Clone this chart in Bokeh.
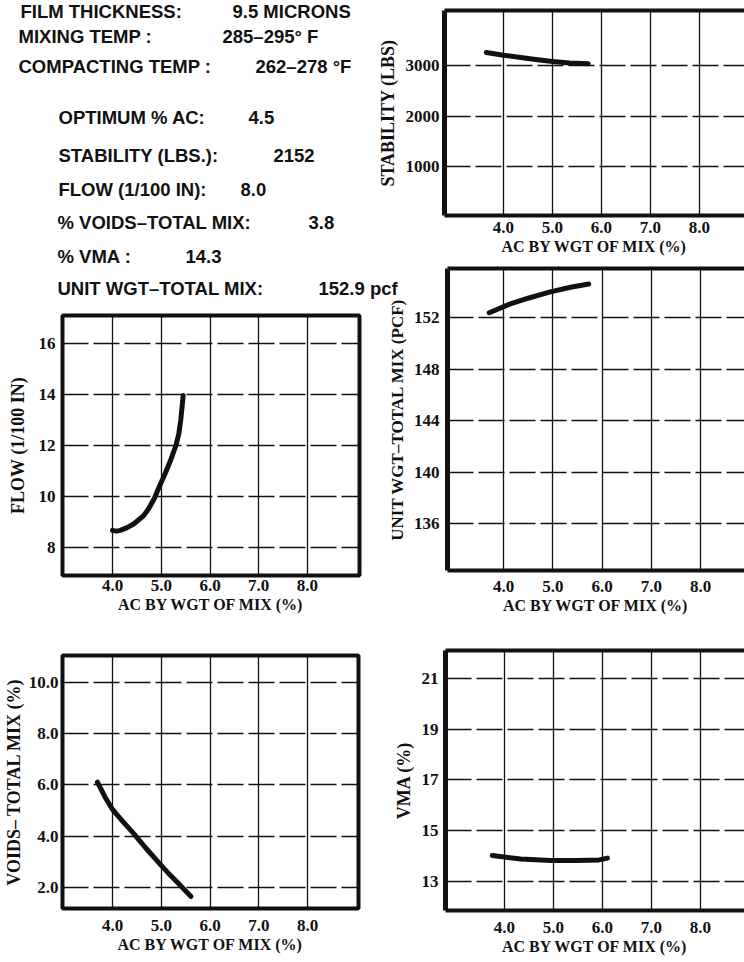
from bokeh.plotting import figure
from bokeh.layouts import row, column
from bokeh.models import Range1d, LinearAxis, FixedTicker, ColumnDataSource, PrintfTickFormatter
from bokeh.embed import file_html
from bokeh.resources import INLINE
from bokeh.core.properties import value

# ---------------- data ----------------
ac_ticks = [4.0, 5.0, 6.0, 7.0, 8.0]
x_title = "AC BY WGT OF MIX (%)"

info_labels = ["FILM THICKNESS:", "MIXING TEMP :", "COMPACTING TEMP :",
               "OPTIMUM % AC:", "STABILITY (LBS.):", "FLOW (1/100 IN):",
               "% VOIDS\u2013TOTAL MIX:", "% VMA :", "UNIT WGT\u2013TOTAL MIX:"]
info_values = ["9.5 MICRONS", "285\u2013295\u00b0 F", "262\u2013278 \u00b0F",
               "4.5", "2152", "8.0", "3.8", "14.3", "152.9 pcf"]

stab_ac = [3.65, 4.0, 4.35, 4.7, 5.0, 5.35, 5.73]
stab_lbs = [3257, 3205, 3160, 3115, 3080, 3050, 3035]
stab_yticks = [1000, 2000, 3000]

unit_ac = [3.71, 4.14, 4.5, 4.93, 5.36, 5.73]
unit_pcf = [152.37, 153.06, 153.5, 153.97, 154.35, 154.6]
unit_yticks = [136, 140, 144, 148, 152]

flow_ac = [4.0, 4.08, 4.16, 4.3, 4.44, 4.64, 4.75, 4.86, 4.97, 5.08, 5.19, 5.3, 5.36, 5.4, 5.45]
flow_val = [8.67, 8.64, 8.67, 8.78, 8.93, 9.25, 9.55, 9.93, 10.43, 10.9, 11.41, 12.0, 12.46, 13.0, 13.96]
flow_yticks = [8, 10, 12, 14, 16]

voids_ac = [3.69, 3.84, 3.99, 4.2, 4.44, 4.7, 4.97, 5.15, 5.33, 5.47, 5.61]
voids_val = [6.11, 5.55, 5.07, 4.6, 4.09, 3.5, 2.92, 2.55, 2.2, 1.92, 1.65]
voids_yticks = [2.0, 4.0, 6.0, 8.0, 10.0]

vma_ac = [3.75, 4.33, 4.94, 5.48, 5.93, 6.1]
vma_val = [14.02, 13.89, 13.83, 13.83, 13.85, 13.92]
vma_yticks = [13, 15, 17, 19, 21]

# ---------------- style ----------------
SERIF = "Liberation Serif"
SANS = "Liberation Sans"
INK = "#111111"


def no_align(p):
    try:
        p.frame_align = False
    except Exception:
        pass


def panel(w, h, xr, yr, yticks, ytitle, mb, full_frame, xstand, ystand,
          ytitle_stand, yfmt=None, ytitle_size="18px"):
    left, right, top, bottom = mb
    p = figure(width=w, height=h, x_range=Range1d(*xr), y_range=Range1d(*yr),
               output_backend="svg", toolbar_location=None,
               min_border_left=left, min_border_right=right,
               min_border_top=top, min_border_bottom=bottom)
    no_align(p)
    p.border_fill_color = None
    p.background_fill_color = "white"
    p.xaxis.ticker = FixedTicker(ticks=ac_ticks)
    p.xaxis.formatter = PrintfTickFormatter(format="%.1f")
    p.yaxis.ticker = FixedTicker(ticks=yticks)
    if yfmt:
        p.yaxis.formatter = PrintfTickFormatter(format=yfmt)
    for ax in (p.xaxis, p.yaxis):
        ax.major_tick_line_color = None
        ax.minor_tick_line_color = None
        ax.major_tick_in = 0
        ax.major_tick_out = 0
        ax.major_label_text_font = SERIF
        ax.major_label_text_font_style = "bold"
        ax.major_label_text_font_size = "17px"
        ax.major_label_text_color = INK
        ax.axis_label_text_font = SERIF
        ax.axis_label_text_font_style = "bold"
        ax.axis_label_text_color = INK
    p.xaxis.axis_label = x_title
    p.xaxis.axis_label_text_font_size = "16px"
    p.xaxis.major_label_standoff = xstand
    p.xaxis.axis_label_standoff = 2
    p.yaxis.axis_label = ytitle
    p.yaxis.axis_label_text_font_size = ytitle_size
    p.yaxis.major_label_standoff = ystand
    p.yaxis.axis_label_standoff = ytitle_stand
    p.xgrid.grid_line_color = INK
    p.xgrid.grid_line_width = 1.3
    p.ygrid.grid_line_color = INK
    p.ygrid.grid_line_width = 1.3
    p.ygrid.grid_line_dash = "26 5"
    if full_frame:
        p.outline_line_color = INK
        p.outline_line_width = 4
        p.outline_line_alpha = 1.0
        p.xaxis.axis_line_color = None
        p.yaxis.axis_line_color = None
    else:
        p.outline_line_color = None
        p.yaxis.axis_line_width = 5
        p.yaxis.axis_line_color = INK
        p.xaxis.axis_line_width = 4
        p.xaxis.axis_line_color = INK
        topax = LinearAxis(ticker=FixedTicker(ticks=[]), axis_line_width=4,
                           axis_line_color=INK, major_tick_line_color=None,
                           minor_tick_line_color=None,
                           major_label_text_font_size="0px",
                           major_label_standoff=0)
        p.add_layout(topax, "above")
    return p


def curve(p, xs, ys):
    p.line(xs, ys, line_width=5, line_color=INK, line_cap="round",
           line_join="round")


# ---------------- text block ----------------
TW, TH = 408, 308
tf = figure(width=TW, height=TH, x_range=Range1d(0, TW), y_range=Range1d(TH, 0),
            x_axis_type=None, y_axis_type=None, output_backend="svg",
            toolbar_location=None, min_border=0, min_border_left=0,
            min_border_right=0, min_border_top=0, min_border_bottom=0)
no_align(tf)
tf.outline_line_color = None
tf.grid.visible = False
tf.border_fill_color = "white"
tf.background_fill_color = "white"

label_x = [20, 18, 18, 58, 58, 58, 57, 57, 57]
value_x = [232, 222, 255, 248, 273, 240, 308, 185, 318]
row_y = [11, 36, 66, 117, 155, 189, 222, 256, 288]
src_l = ColumnDataSource(dict(x=label_x, y=row_y, t=info_labels))
src_v = ColumnDataSource(dict(x=value_x, y=row_y, t=info_values))
for s in (src_l, src_v):
    tf.text(x="x", y="y", text="t", source=s, text_font=value(SANS),
            text_font_style="bold", text_font_size="18.5px", text_color=INK,
            text_baseline="middle", text_align="left")

# ---------------- panels ----------------
stab = panel(374, 262, (2.796, 8.92), (30, 4090), stab_yticks, "STABILITY (LBS)",
             (74, 0, 10, 47), False, 6, 5, 5)
curve(stab, stab_ac, stab_lbs)

unit = panel(374, 363, (2.863, 8.893), (132.35, 155.81), unit_yticks,
             "UNIT WGT\u2013TOTAL MIX (PCF)", (77, 0, 6, 55), False, 10, 8, 4,
             ytitle_size="17px")
curve(unit, unit_ac, unit_pcf)

vma = panel(374, 337, (2.796, 8.898), (11.857, 22.10), vma_yticks, "VMA (%)",
            (75, 0, 25, 52), False, 11, 7, 5)
curve(vma, vma_ac, vma_val)

flow = panel(370, 312, (2.974, 9.067), (6.90, 17.10), flow_yticks, "FLOW (1/100 IN)",
             (62, 11, 7, 45), True, 4, 7, 8)
curve(flow, flow_ac, flow_val)

voids = panel(370, 342, (2.974, 9.046), (1.18, 11.05), voids_yticks,
              "VOIDS\u2013 TOTAL MIX (%)", (62, 12, 35, 54), True, 11, 4, 2,
              yfmt="%.1f")
curve(voids, voids_ac, voids_val)

left_col = column(tf, flow, voids, spacing=0)
right_col = column(stab, unit, vma, spacing=0, margin=(0, 0, 0, -38))
layout = row(left_col, right_col, spacing=0)

open("out.html", "w").write(file_html(layout, INLINE))
